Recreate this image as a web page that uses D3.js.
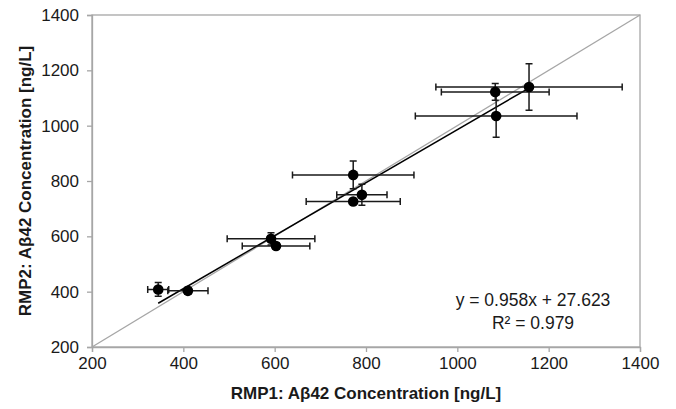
<!DOCTYPE html>
<html lang="en">
<head>
    <meta charset="utf-8">
    <title>RMP1 vs RMP2</title>
    <script src="https://d3js.org/d3.v7.min.js"></script>
    <style>
        body { margin: 0; background: #fff; }
        text { font-family: "Liberation Sans", Arial, sans-serif; fill: #1a1a1a; }
    </style>
</head>
<body>
<svg width="676" height="409"></svg>
<script>
    // data
    var rmp1 = [345, 410, 772, 791, 772, 592, 603, 1157, 1083, 1085];
    var rmp2 = [408, 403, 822, 750, 726, 591, 565, 1140, 1122, 1035];
    var rmp1Err = [23, 44, 133, 55, 103, 96, 74, 204, 118, 177];
    var rmp2Err = [25, 12, 50, 38, 10, 22, 12, 84, 30, 77];
    var ticks = [200, 400, 600, 800, 1000, 1200, 1400];
    var slope = 0.958, intercept = 27.623;

    var marge = {top: 15, right: 36, bottom: 62, left: 92};
    var svg = d3.select("svg");
    var width = +svg.attr("width") - marge.left - marge.right;
    var height = +svg.attr("height") - marge.top - marge.bottom;
    var g = svg.append("g")
        .attr("transform", "translate(" + marge.left + "," + marge.top + ")");

    var x = d3.scaleLinear().domain([200, 1400]).range([0, width]);
    var y = d3.scaleLinear().domain([200, 1400]).range([height, 0]);

    // frame
    g.append("rect")
        .attr("width", width).attr("height", height)
        .attr("fill", "none").attr("stroke", "#a6a6a6").attr("stroke-width", 1.3);

    var xAxis = g.append("g")
        .attr("transform", "translate(0," + height + ")")
        .call(d3.axisBottom(x).tickValues(ticks).tickSize(5).tickPadding(5).tickFormat(d3.format("d")));
    var yAxis = g.append("g")
        .call(d3.axisLeft(y).tickValues(ticks).tickSize(5).tickPadding(8).tickFormat(d3.format("d")));
    [xAxis, yAxis].forEach(function(a){
        a.select(".domain").attr("stroke", "#a6a6a6").attr("stroke-width", 1.3);
        a.selectAll(".tick line").attr("stroke", "#a6a6a6").attr("stroke-width", 1.3);
        a.selectAll(".tick text").attr("font-size", 17).attr("fill", "#1a1a1a")
            .attr("font-family", "Liberation Sans, Arial, sans-serif");
    });

    // identity line
    g.append("line")
        .attr("x1", x(200)).attr("y1", y(200))
        .attr("x2", x(1400)).attr("y2", y(1400))
        .attr("stroke", "#a6a6a6").attr("stroke-width", 1.3);

    // regression line
    var xmin = d3.min(rmp1), xmax = d3.max(rmp1);
    g.append("line")
        .attr("x1", x(xmin)).attr("y1", y(slope * xmin + intercept))
        .attr("x2", x(xmax)).attr("y2", y(slope * xmax + intercept))
        .attr("stroke", "#000").attr("stroke-width", 1.5);

    var idx = d3.range(rmp1.length);
    var cap = 3.5;
    var eb = g.selectAll(".eb").data(idx).enter().append("g")
        .attr("stroke", "#1a1a1a").attr("stroke-width", 1.5).attr("fill", "none");
    // horizontal error bars
    eb.append("path").attr("d", function(i){
        var x0 = x(rmp1[i] - rmp1Err[i]), x1 = x(rmp1[i] + rmp1Err[i]), yy = y(rmp2[i]);
        return "M" + x0 + "," + yy + "H" + x1 +
            "M" + x0 + "," + (yy - cap) + "V" + (yy + cap) +
            "M" + x1 + "," + (yy - cap) + "V" + (yy + cap);
    });
    // vertical error bars
    eb.append("path").attr("d", function(i){
        var y0 = y(rmp2[i] - rmp2Err[i]), y1 = y(rmp2[i] + rmp2Err[i]), xx = x(rmp1[i]);
        return "M" + xx + "," + y0 + "V" + y1 +
            "M" + (xx - cap) + "," + y0 + "H" + (xx + cap) +
            "M" + (xx - cap) + "," + y1 + "H" + (xx + cap);
    });

    g.selectAll(".pt").data(idx).enter().append("circle")
        .attr("cx", function(i){ return x(rmp1[i]); })
        .attr("cy", function(i){ return y(rmp2[i]); })
        .attr("r", 5.3)
        .attr("fill", "#000");

    // equation
    g.append("text")
        .attr("x", 441).attr("y", 291)
        .attr("text-anchor", "middle").attr("font-size", 17.5)
        .text("y = 0.958x + 27.623");
    g.append("text")
        .attr("x", 441).attr("y", 314)
        .attr("text-anchor", "middle").attr("font-size", 17.5)
        .text("R² = 0.979");

    // axis titles
    svg.append("text")
        .attr("x", marge.left + width / 2).attr("y", 399)
        .attr("text-anchor", "middle").attr("font-size", 17).attr("font-weight", "bold")
        .text("RMP1: Aβ42 Concentration [ng/L]");
    svg.append("text")
        .attr("transform", "translate(31," + (marge.top + height / 2) + ") rotate(-90)")
        .attr("text-anchor", "middle").attr("font-size", 17).attr("font-weight", "bold")
        .text("RMP2: Aβ42 Concentration [ng/L]");
</script>
</body>
</html>
